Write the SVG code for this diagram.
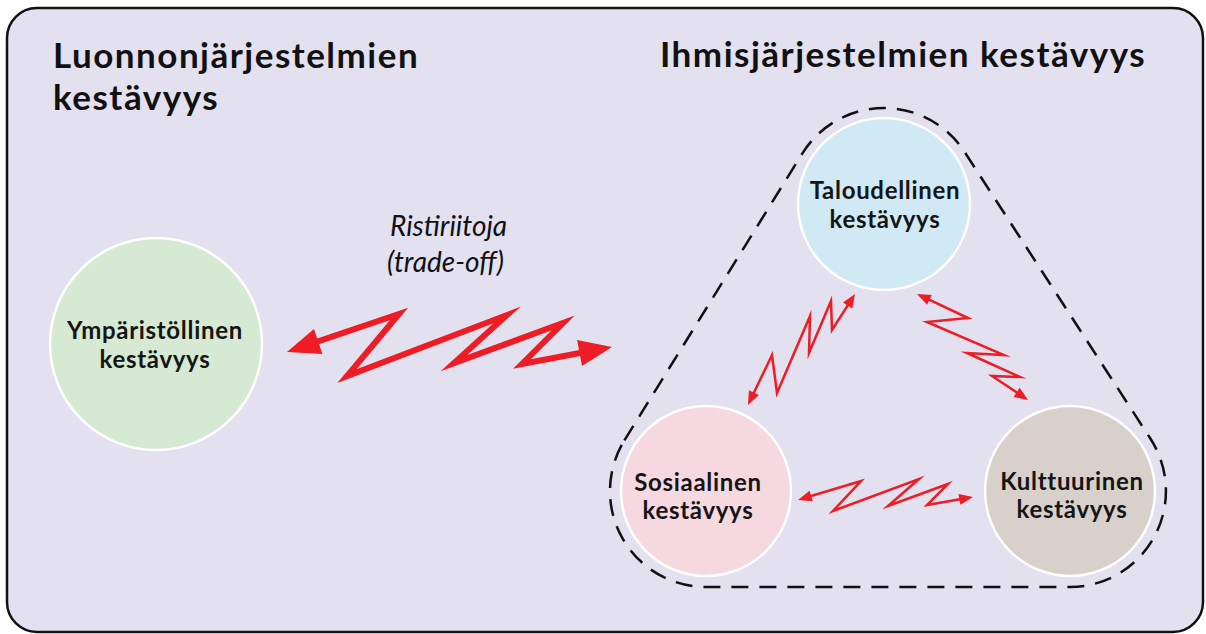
<svg xmlns="http://www.w3.org/2000/svg" width="1206" height="634" viewBox="0 0 1206 634">
<style>
.title{font-family:Lato,"Open Sans","DejaVu Sans",sans-serif;font-weight:700;font-size:35px;letter-spacing:1.5px;fill:#111}
.lbl{font-family:Lato,"Open Sans","DejaVu Sans",sans-serif;font-weight:700;font-size:24px;letter-spacing:0.7px;fill:#151515;text-anchor:middle}
.ital{font-family:Lato,"Open Sans","DejaVu Sans",sans-serif;font-style:italic;font-size:28px;fill:#111}
.node{stroke:#ffffff;stroke-width:2.5}
.zz{fill:none;stroke:#ee1c24;stroke-linejoin:miter;stroke-miterlimit:12;marker-start:url(#ah);marker-end:url(#ah)}
</style>
<defs>
<marker id="ah" markerWidth="6" markerHeight="5" refX="2.5" refY="2.2" orient="auto-start-reverse" overflow="visible">
<path d="M0,0 L5.5,2.2 L0,4.4 z" fill="#ee1c24"/>
</marker>
</defs>
<rect x="7" y="8" width="1196" height="624" rx="30" ry="30" fill="#e3e0ef" stroke="#111" stroke-width="2.5"/>
<text class="title" x="53" y="68">Luonnonjärjestelmien</text>
<text class="title" x="53" y="110">kestävyys</text>
<text class="title" x="660" y="67">Ihmisjärjestelmien kestävyys</text>
<text class="ital" x="390" y="236">Ristiriitoja</text>
<text class="ital" x="387" y="272">(trade-off)</text>
<path id="boundary" d="M624.4,440.4 L802.4,153.4 A96,96 0 0 1 964.5,151.8 L1150.5,438.8 A96,96 0 0 1 1070,587 L706,587 A96,96 0 0 1 624.4,440.4 Z" fill="none" stroke="#111" stroke-width="2.5" stroke-dasharray="17 11"/>
<g id="node-ymparisto">
<circle class="node" cx="156" cy="344" r="106" fill="#d6e9d3"/>
<text class="lbl" x="155" y="339">Ympäristöllinen</text>
<text class="lbl" x="155" y="368">kestävyys</text>
</g>
<g id="node-talous">
<circle class="node" cx="884" cy="204" r="86" fill="#d0e9f4"/>
<text class="lbl" x="885" y="199">Taloudellinen</text>
<text class="lbl" x="885" y="228">kestävyys</text>
</g>
<g id="node-sosiaalinen">
<circle class="node" cx="706" cy="491" r="85" fill="#f6d8e0"/>
<text class="lbl" x="698" y="491">Sosiaalinen</text>
<text class="lbl" x="698" y="519">kestävyys</text>
</g>
<g id="node-kulttuuri">
<circle class="node" cx="1070" cy="491" r="85" fill="#d8d1cb"/>
<text class="lbl" x="1072" y="490">Kulttuurinen</text>
<text class="lbl" x="1072" y="518">kestävyys</text>
</g>
<g id="connectors">
<polyline class="zz" stroke-width="6" points="304,346.2 399,314 347,376 507,315 454,363 563,323 522,364 594.3,350.3"/>
<polyline class="zz" stroke-width="2.5" points="751.2,398.2 772,355 777,393 810,316 809,353 831,301 832,330 851,300.3"/>
<polyline class="zz" stroke-width="2.5" points="923.8,297.2 968,318 927,322 1004,355 967,353 1020,377 992,376 1021.8,395.8"/>
<polyline class="zz" stroke-width="2.5" points="805.2,497.8 861,481 833,511 919,479 888,506 948,484 927,505 965.6,498.3"/>
</g>
</svg>
